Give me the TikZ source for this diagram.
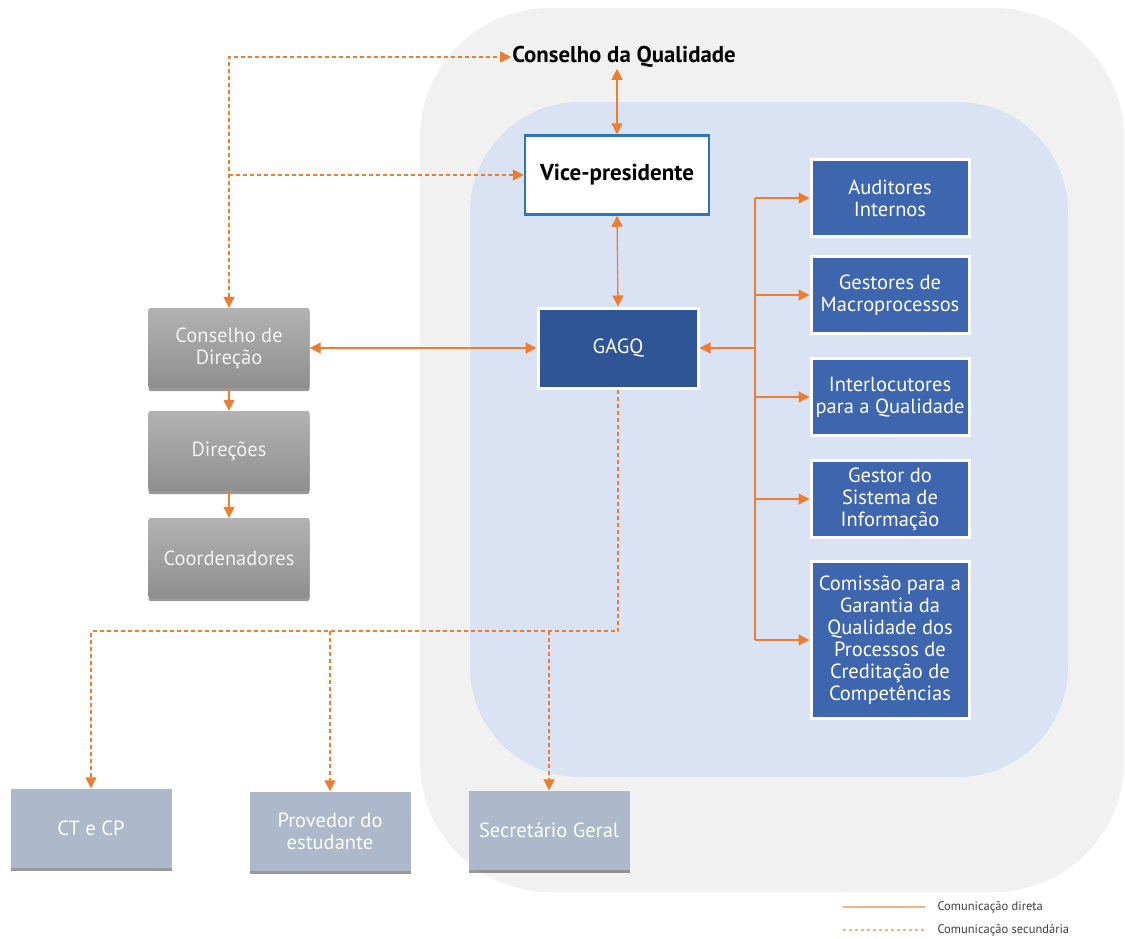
\documentclass[tikz,border=0pt]{standalone}
\usepackage{fontspec}
\setmainfont{PT Sans}
\usetikzlibrary{arrows.meta,shadows}
\definecolor{org}{HTML}{ED7D31}
\definecolor{outerbg}{HTML}{F1F1F1}
\definecolor{innerbg}{HTML}{DAE3F3}
\definecolor{vpblue}{HTML}{2E75B6}
\definecolor{gagqblue}{HTML}{2F5597}
\definecolor{rblue}{HTML}{3D66AF}
\definecolor{botgray}{HTML}{ADB9CA}
\definecolor{legtxt}{HTML}{404040}
\tikzset{
  dirline/.style={draw=org, line width=1.3pt},
  secline/.style={draw=org, line width=1.2pt, dash pattern=on 4pt off 3pt},
  tip/.style={-{Triangle[length=11pt,width=11pt]}},
  tips/.style={{Triangle[length=11pt,width=11pt]}-{Triangle[length=11pt,width=11pt]}},
  rbox/.style={fill=rblue, draw=white, line width=3pt, minimum width=158pt, minimum height=77pt,
     text=white, align=center, font=\fontsize{20.5}{22}\selectfont, inner sep=0pt},
  gbox/.style={top color=black!30, bottom color=black!44, draw=none, rounded corners=2pt,
     minimum width=161pt, minimum height=80pt, text=white!95!black, align=center,
     font=\fontsize{20.5}{22}\selectfont,
     drop shadow={shadow xshift=0pt, shadow yshift=-3pt, opacity=0.5, fill=black!80}},
  bbox/.style={fill=botgray, draw=none, minimum width=161pt, minimum height=79pt, text=white,
     align=center, font=\fontsize{20.5}{22}\selectfont,
     drop shadow={shadow xshift=0pt, shadow yshift=-3pt, opacity=0.5, fill=black!80}},
}
\begin{document}
\begin{tikzpicture}[x=1pt,y=-1pt]
\useasboundingbox (0,0) rectangle (1125,938);
% backgrounds
\fill[outerbg, rounded corners=130pt] (420,8) rectangle (1124,892);
\fill[innerbg, rounded corners=110pt] (470,102) rectangle (1068,777);
% nodes
\node[font=\bfseries\fontsize{22.8}{26}\selectfont, inner sep=1pt] (cq) at (624,57) {Conselho da Qualidade};
\node[fill=white, draw=vpblue, line width=2.5pt, minimum width=184pt, minimum height=79pt,
  font=\bfseries\fontsize{23}{26}\selectfont] (vp) at (617,175) {Vice-presidente};
\node[fill=gagqblue, draw=white, line width=3pt, minimum width=160pt, minimum height=80pt,
  text=white, font=\fontsize{20.5}{22}\selectfont] (gagq) at (618,348) {GAGQ};
\node[rbox] (a1) at (890,198) {Auditores\\Internos};
\node[rbox] (a2) at (890,295) {Gestores de\\Macroprocessos};
\node[rbox] (a3) at (890,397) {Interlocutores\\para a Qualidade};
\node[rbox] (a4) at (890,499) {Gestor do\\Sistema de\\Informação};
\node[rbox, minimum height=157pt] (a5) at (890,640) {Comissão para a\\Garantia da\\Qualidade dos\\Processos de\\Creditação de\\Competências};
\node[gbox] (cd) at (229,348) {Conselho de\\Direção};
\node[gbox] (dr) at (229,451) {Direções};
\node[gbox] (co) at (229,558) {Coordenadores};
\node[bbox] (ct) at (91,828) {CT e CP};
\node[bbox] (pv) at (330,831) {Provedor do\\estudante};
\node[bbox] (sg) at (549,830) {Secretário Geral};
% direct connectors
\draw[dirline, tips] (cq.south -| vp.north) -- (vp.north);
\draw[dirline, tips] (vp.south) -- (gagq.north);
\draw[dirline, tips] (cd.east) -- (gagq.west);
\draw[dirline, tip] (cd.south) -- (dr.north);
\draw[dirline, tip] (dr.south) -- (co.north);
\coordinate (bx) at (755,348);
\draw[dirline, tip] (bx) -- (gagq.east);
\draw[dirline] (bx |- a1.west) -- (bx |- a5.west);
\foreach \n in {a1,a2,a3,a4,a5} \draw[dirline, tip] (bx |- \n.west) -- (\n.west);
% secondary connectors
\coordinate (j1) at (cd.north |- vp.west);
\draw[secline, tips] (cd.north) |- (cq.west);
\draw[secline, tip] (j1) -- (vp.west);
\coordinate (h) at (gagq.south |- 0,631);
\draw[secline, tip] (gagq.south) -- (h) -| (ct.north);
\draw[secline, tip] (pv.north |- h) -- (pv.north);
\draw[secline, tip] (sg.north |- h) -- (sg.north);
% legend
\coordinate (l1a) at (843,907); \coordinate (l1b) at (925,907);
\coordinate (l2a) at (843,930); \coordinate (l2b) at (925,930);
\draw[draw=org!60, line width=1.2pt] (l1a) -- (l1b);
\draw[draw=org!60, line width=1.2pt, dash pattern=on 3pt off 3pt] (l2a) -- (l2b);
\node[anchor=west, text=legtxt, font=\fontsize{12.5}{14}\selectfont] (lt1) at (934,907) {Comunicação direta};
\node[anchor=west, text=legtxt, font=\fontsize{12.5}{14}\selectfont] (lt2) at (934,930) {Comunicação secundária};
\end{tikzpicture}
\end{document}
